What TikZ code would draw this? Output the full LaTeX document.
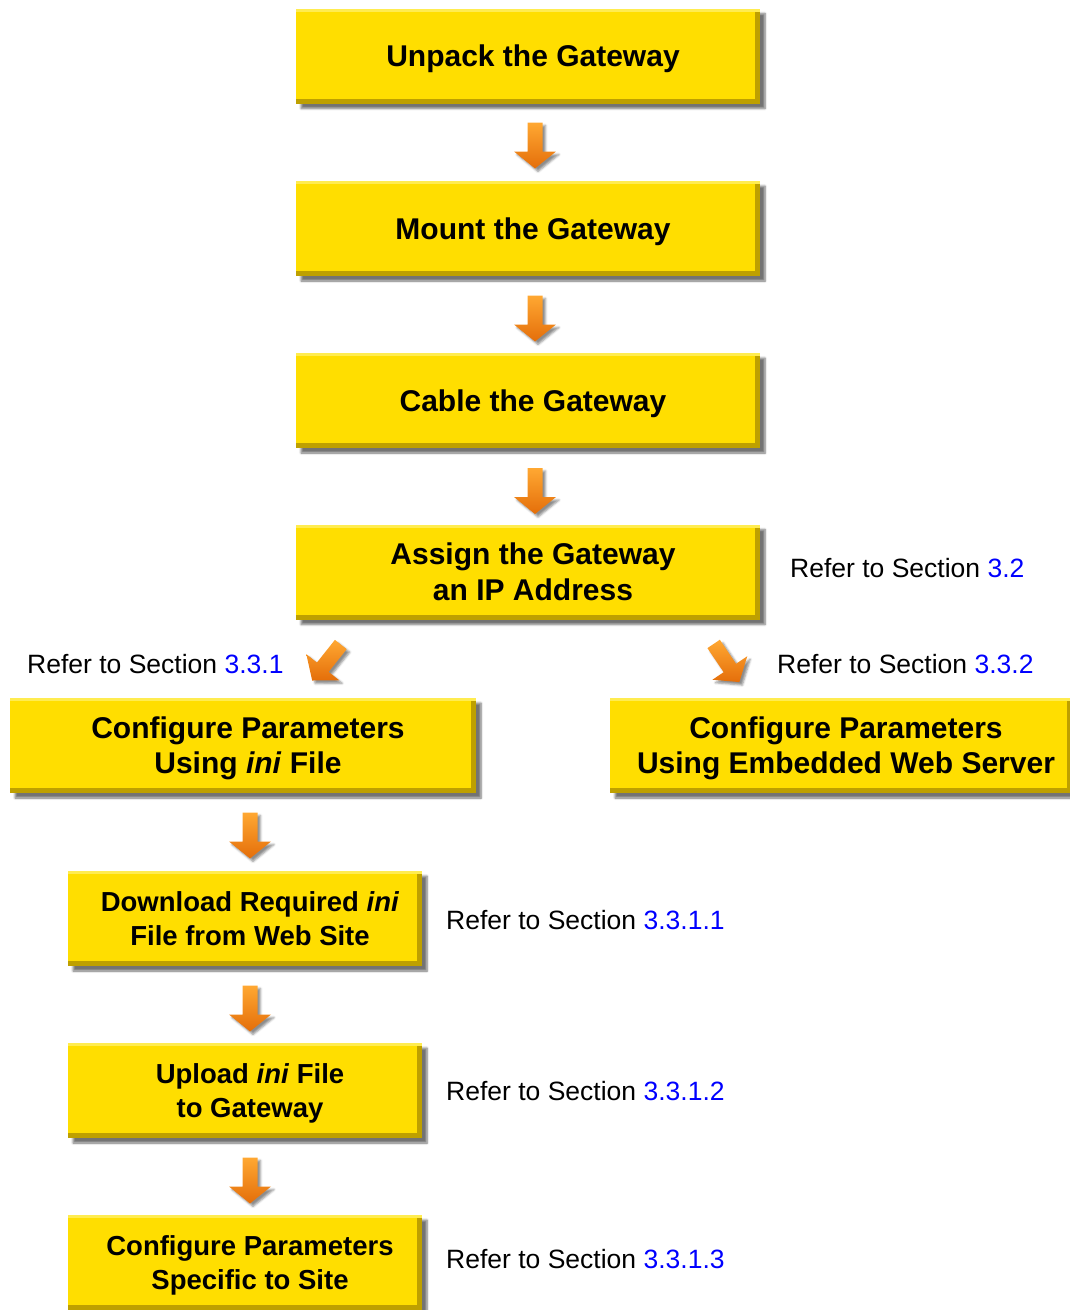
\documentclass[tikz,border=0pt]{standalone}
\usepackage{fontspec}
\setmainfont{Liberation Sans}
\usetikzlibrary{shadows.blur,calc}
\definecolor{gy}{RGB}{255,222,0}
\definecolor{gyd}{RGB}{190,160,0}
\definecolor{gyl}{RGB}{255,236,80}
\definecolor{aol}{RGB}{255,168,50}
\definecolor{aod}{RGB}{228,110,10}
\definecolor{lnk}{RGB}{0,0,255}
\newcommand\bxt[1]{\raisebox{0pt}[\dimexpr\height+7pt\relax][\depth]{\begin{tabular}{@{\hspace{10pt}}c@{}}#1\end{tabular}}}
\tikzset{
 gbox/.style={draw=none, fill=gy, minimum height=95pt, inner sep=0pt,
   font=\bfseries\fontsize{30}{35.5}\selectfont,
   blur shadow={shadow xshift=5pt, shadow yshift=-5pt, shadow blur steps=6, shadow opacity=55},
   path picture={
     \fill[gyd] (path picture bounding box.south west) rectangle ([yshift=5pt]path picture bounding box.south east);
     \fill[gyd] ([xshift=-5pt]path picture bounding box.south east) rectangle (path picture bounding box.north east);
     \fill[gyl] (path picture bounding box.north west) rectangle ([yshift=-3pt]path picture bounding box.north east);
   }},
 bigbox/.style={gbox, minimum width=464pt},
 sbox/.style={gbox, minimum width=354pt, font=\bfseries\fontsize{27.5}{33.5}\selectfont},
 ref/.style={anchor=base west, inner sep=0pt, font=\fontsize{26.5}{30}\selectfont},
 arr/.pic={
   \shade[top color=aol, bottom color=aod,
     blur shadow={shadow xshift=3pt, shadow yshift=-3pt, shadow blur steps=4, shadow opacity=45}]
     (-7.5,-23) -- (7.5,-23) -- (7.5,6) -- (21,6) -- (0,23) -- (-21,6) -- (-7.5,6) -- cycle;
 }
}
\begin{document}
\begin{tikzpicture}[x=1pt,y=-1pt]
\useasboundingbox (0,0) rectangle (1070,1310);
\node[bigbox] (b1) at (528,56) {\bxt{Unpack the Gateway}};
\node[bigbox] (b2) at (528,228.5) {\bxt{Mount the Gateway}};
\node[bigbox] (b3) at (528,400.5) {\bxt{Cable the Gateway}};
\node[bigbox] (b4) at (528,572) {\bxt{Assign the Gateway\\an IP Address}};
\node[gbox, minimum width=466pt] (b5) at (243,745.5) {\bxt{Configure Parameters\\Using \textit{ini} File}};
\node[gbox, minimum width=462pt] (b6) at (841,745.5) {\bxt{Configure Parameters\\Using Embedded Web Server}};
\node[sbox] (b7) at (245,918.5) {\bxt{Download Required \textit{ini}\\File from Web Site}};
\node[sbox] (b8) at (245,1090.5) {\bxt{Upload \textit{ini} File\\to Gateway}};
\node[sbox] (b9) at (245,1262.5) {\bxt{Configure Parameters\\Specific to Site}};

\pic at (535,145.5) {arr};
\pic at (535,318.5) {arr};
\pic at (535,491) {arr};
\pic[rotate=-38.5] at (326.5,662.5) {arr};
\pic[rotate=34] at (726.5,663) {arr};
\pic at (250,835.5) {arr};
\pic at (250,1008.5) {arr};
\pic at (250,1180.5) {arr};

\node[ref] (r1) at (790,577) {Refer to Section \textcolor{lnk}{3.2}};
\node[ref] (r2) at (27,673) {Refer to Section \textcolor{lnk}{3.3.1}};
\node[ref] (r3) at (777,673) {Refer to Section \textcolor{lnk}{3.3.2}};
\node[ref] (r4) at (446,929) {Refer to Section \textcolor{lnk}{3.3.1.1}};
\node[ref] (r5) at (446,1100) {Refer to Section \textcolor{lnk}{3.3.1.2}};
\node[ref] (r6) at (446,1268) {Refer to Section \textcolor{lnk}{3.3.1.3}};
\end{tikzpicture}
\end{document}
